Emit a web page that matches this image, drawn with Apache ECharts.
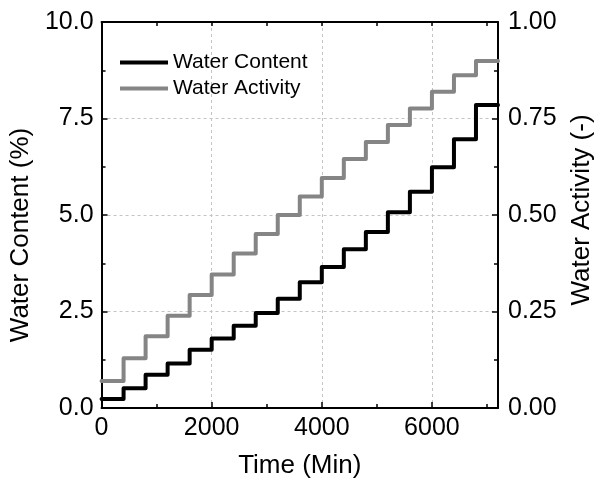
<!DOCTYPE html>
<html>
<head>
<meta charset="utf-8">
<script src="https://cdn.jsdelivr.net/npm/echarts@6/dist/echarts.min.js"></script>
<style>
  html, body { margin: 0; padding: 0; background: #fff; }
  #chart { width: 603px; height: 484px; }
</style>
</head>
<body>
<div id="chart"></div>
<script>
// Start time of each humidity step (min); each level holds until the next start.
const stepTimes = [0, 400, 800, 1200, 1600, 2000, 2400, 2800, 3200, 3600, 4000, 4400, 4800, 5200, 5600, 6000, 6400, 6800];
const endTime = 7200;

// Water content (%) reached on each step
const waterContent = [0.23, 0.51, 0.86, 1.15, 1.51, 1.80, 2.13, 2.46, 2.83, 3.26, 3.65, 4.11, 4.56, 5.07, 5.60, 6.24, 6.96, 7.85];

// Water activity (-) on each step
const waterActivity = [0.070, 0.129, 0.186, 0.239, 0.293, 0.346, 0.400, 0.451, 0.500, 0.548, 0.596, 0.645, 0.689, 0.733, 0.776, 0.819, 0.862, 0.899];

const seriesNames = ['Water Content', 'Water Activity'];

function stepData(values) {
  const pts = stepTimes.map((t, i) => [t, values[i]]);
  pts.push([endTime, values[values.length - 1]]);
  return pts;
}

const FONT = '"Liberation Sans", Arial, Helvetica, sans-serif';
const AXIS_LINE = { show: true, onZero: false, lineStyle: { color: '#000', width: 2 } };
const GRID_LINE = { show: true, lineStyle: { color: '#c4c4c4', width: 1, type: [3, 3] } };

const chart = echarts.init(document.getElementById('chart'), null, { renderer: 'canvas' });

chart.setOption({
  animation: false,
  backgroundColor: '#fff',
  textStyle: { fontFamily: FONT },
  grid: { left: 97, right: 101, top: 22, bottom: 75, containLabel: false },
  legend: {
    orient: 'vertical',
    left: 120,
    top: 52,
    padding: 0,
    itemGap: 5,
    itemWidth: 48,
    itemHeight: 4,
    icon: 'rect',
    data: seriesNames,
    textStyle: { fontSize: 21, color: '#000', fontFamily: FONT }
  },
  xAxis: [
    {
      type: 'value', min: 0, max: endTime, interval: 2000, position: 'bottom',
      name: 'Time (Min)', nameLocation: 'middle', nameGap: 45,
      nameTextStyle: { fontSize: 26, color: '#000', fontFamily: FONT },
      axisLine: AXIS_LINE,
      axisTick: { show: true, inside: true, length: 6, lineStyle: { color: '#000', width: 1.5 } },
      axisLabel: { fontSize: 25, color: '#000', margin: 8, fontFamily: FONT, showMaxLabel: false, formatter: v => String(v) },
      splitLine: GRID_LINE
    },
    {
      // minor ticks along the bottom edge
      type: 'value', min: 0, max: endTime, interval: 1000, position: 'bottom',
      axisLine: { show: false },
      axisTick: { show: true, inside: true, length: 4, lineStyle: { color: '#000', width: 1.5 } },
      axisLabel: { show: false },
      splitLine: { show: false }
    },
    {
      // mirrored frame along the top edge
      type: 'value', min: 0, max: endTime, interval: 1000, position: 'top',
      axisLine: AXIS_LINE,
      axisTick: { show: true, inside: true, length: 4, lineStyle: { color: '#000', width: 1.5 } },
      axisLabel: { show: false },
      splitLine: { show: false }
    }
  ],
  yAxis: [
    {
      type: 'value', min: 0, max: 10, interval: 2.5, position: 'left',
      name: 'Water Content (%)', nameLocation: 'middle', nameGap: 52,
      nameTextStyle: { fontSize: 26, color: '#000', fontFamily: FONT, padding: [0, 40, 0, 0] },
      axisLine: AXIS_LINE,
      axisTick: { show: true, inside: true, length: 6, lineStyle: { color: '#000', width: 1.5 } },
      minorTick: { show: true, splitNumber: 2, length: 4, lineStyle: { color: '#000', width: 1.5 } },
      axisLabel: { fontSize: 25, color: '#000', margin: 8, fontFamily: FONT, formatter: v => v.toFixed(1) },
      splitLine: GRID_LINE
    },
    {
      type: 'value', min: 0, max: 1, interval: 0.25, position: 'right',
      name: 'Water Activity (-)', nameLocation: 'middle', nameGap: 71,
      nameTextStyle: { fontSize: 26, color: '#000', fontFamily: FONT, padding: [0, 0, 0, 10] },
      axisLine: AXIS_LINE,
      axisTick: { show: true, inside: true, length: 6, lineStyle: { color: '#000', width: 1.5 } },
      minorTick: { show: true, splitNumber: 2, length: 4, lineStyle: { color: '#000', width: 1.5 } },
      axisLabel: { fontSize: 25, color: '#000', margin: 10, fontFamily: FONT, formatter: v => v.toFixed(2) },
      splitLine: { show: false }
    }
  ],
  series: [
    {
      name: seriesNames[0], type: 'line', xAxisIndex: 0, yAxisIndex: 0,
      data: stepData(waterContent), step: 'end', symbol: 'none', z: 3,
      itemStyle: { color: '#000' },
      lineStyle: { color: '#000', width: 4, join: 'round', cap: 'round' }
    },
    {
      name: seriesNames[1], type: 'line', xAxisIndex: 0, yAxisIndex: 1,
      data: stepData(waterActivity), step: 'end', symbol: 'none', z: 2,
      itemStyle: { color: '#858585' },
      lineStyle: { color: '#858585', width: 4, join: 'round', cap: 'round' }
    }
  ]
});
</script>
</body>
</html>
